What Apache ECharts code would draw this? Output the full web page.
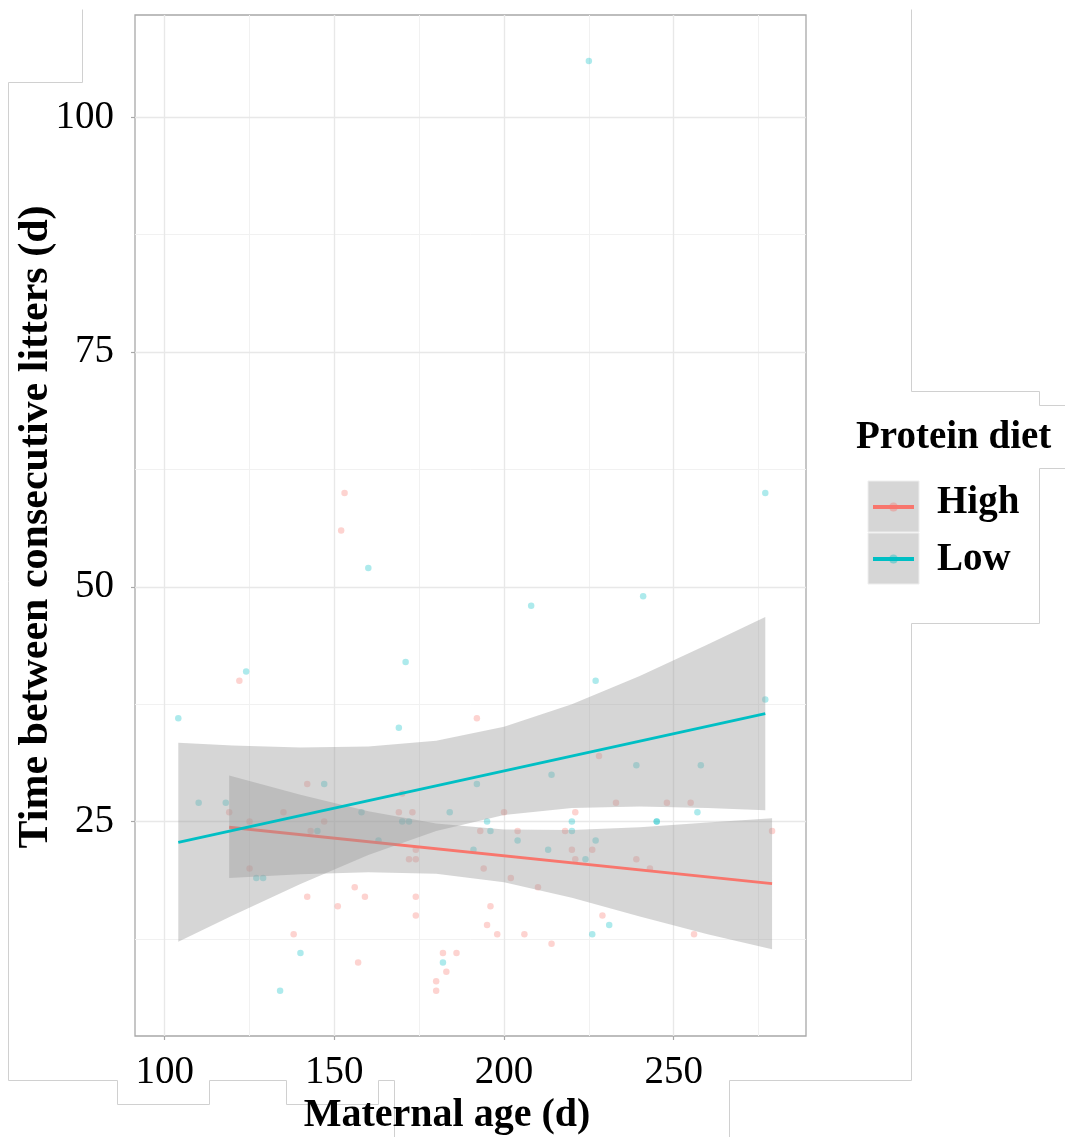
<!DOCTYPE html>
<html>
<head>
<meta charset="utf-8">
<script src="https://cdn.jsdelivr.net/npm/echarts@6/dist/echarts.min.js"></script>
<style>
html,body{margin:0;padding:0;background:#fff;}
#chart{width:1065px;height:1137px;}
</style>
</head>
<body>
<div id="chart"></div>
<script>
// ---- data ----
const seriesNames = ['High', 'Low'];

const highX = [119,142,135,125,147,143,170,169,173,174,172,174,125,156,142,159,174,151,174,138,157,182,186,183,180,180,
               153,152,122,192,228,233,248,255,200,221,279,193,204,218,220,226,221,239,243,194,202,210,196,195,229,198,206,256,214];
const highY = [26,29,26,25,25,24,28,26,26,22,21,21,20,18,17,17,17,16,15,13,10,11,11,9,8,7,
               60,56,40,36,32,27,27,27,26,26,24,24,24,24,22,22,21,21,20,20,19,18,16,14,15,13,13,13,12];

const lowX = [110,118,147,145,158,163,170,172,184,127,129,140,182,134,
              160,124,171,104,169,277,208,241,227,277,239,258,225,
              214,192,257,195,220,245,245,196,220,204,227,191,213,224,231,226];
const lowY = [27,27,29,24,26,23,25,25,26,19,19,11,10,7,
              52,41,42,36,35,60,48,49,40,38,31,31,106,
              30,29,26,25,25,25,25,24,24,23,23,22,22,21,14,13];

// fitted lines (end points)
const highFitX = [119, 279];
const highFitY = [24.4, 18.4];
const lowFitX = [104, 277];
const lowFitY = [22.8, 36.5];

// confidence bands (read at several ages)
const highBandX = [119, 140, 160, 180, 200, 220, 240, 260, 279];
const highUpper = [29.9, 27.85, 26.1, 24.8, 24.15, 24.1, 24.4, 24.9, 25.35];
const highLower = [19.0, 19.4, 19.6, 19.45, 18.55, 16.9, 14.9, 13.0, 11.4];

const lowBandX = [104, 120, 140, 160, 180, 200, 220, 240, 260, 277];
const lowUpper = [33.4, 33.1, 32.9, 33.0, 33.6, 35.1, 37.5, 40.5, 43.85, 46.8];
const lowLower = [12.2, 15.0, 18.35, 21.45, 24.0, 25.7, 26.45, 26.6, 26.45, 26.2];

// axes
const xMajor = [100, 150, 200, 250];
const xMinor = [125, 175, 225, 275];
const yMajor = [25, 50, 75, 100];
const yMinor = [12.5, 37.5, 62.5, 87.5];
const xTitle = 'Maternal age (d)';
const yTitle = 'Time between consecutive litters (d)';
const legendTitle = 'Protein diet';

// ---- chart ----
const PINK = '#F8766D', CYAN = '#00BFC4';
const FONT = "'Liberation Serif','Times New Roman',serif";

function zip(a, b) { return a.map((v, i) => [v, b[i]]); }

function bandSeries(name, bx, up, lo, z) {
  return {
    type: 'custom', name: name, z: z, silent: true,
    data: [0],
    renderItem: function (params, api) {
      const pts = [];
      for (let i = 0; i < bx.length; i++) pts.push(api.coord([bx[i], up[i]]));
      for (let i = bx.length - 1; i >= 0; i--) pts.push(api.coord([bx[i], lo[i]]));
      return { type: 'polygon', shape: { points: pts },
               style: { fill: 'rgba(153,153,153,0.4)' } };
    }
  };
}

function gridLines(arr, key, color, width) {
  return arr.map(v => ({ [key]: v, lineStyle: { color: color, width: width, type: 'solid' } }));
}

const chart = echarts.init(document.getElementById('chart'), null, { renderer: 'canvas' });

const legendItems = [];
const keyBoxes = [{ y: 481, c: PINK, c2: 'rgba(248,118,109,0.4)', t: seriesNames[0], ty: 503 },
                  { y: 533, c: CYAN, c2: 'rgba(0,191,196,0.4)', t: seriesNames[1], ty: 560 }];
keyBoxes.forEach(k => {
  legendItems.push({ type: 'rect', shape: { x: 868, y: k.y, width: 51, height: 51 },
                     style: { fill: '#d6d6d6', stroke: '#eeeeee', lineWidth: 1 } });
  legendItems.push({ type: 'line', shape: { x1: 873, y1: k.y + 26, x2: 914, y2: k.y + 26 },
                     style: { stroke: k.c, lineWidth: 4 } });
  legendItems.push({ type: 'circle', shape: { cx: 893.5, cy: k.y + 26, r: 4.5 },
                     style: { fill: k.c2 } });
  legendItems.push({ type: 'text', x: 937, y: k.ty,
                     style: { text: k.t, font: 'bold 39px ' + FONT, fill: '#000',
                              textAlign: 'left', textVerticalAlign: 'middle' } });
});

const artifactStyle = { stroke: '#d0d0d0', lineWidth: 1, fill: null };
const artifacts = [
  [[82,9],[82,82],[8,82],[8,1080],[117,1080],[117,1104],[209,1104],[209,1080],[286,1080],[286,1104],[378,1104],[378,1080],[394,1080],[394,1137]],
  [[911,9],[911,391],[1039,391],[1039,405],[1065,405]],
  [[1065,468],[1039,468],[1039,623],[911,623],[911,1080],[729,1080],[729,1137]]
].map(p => ({ type: 'polyline', shape: { points: p.map(q => [q[0] + 0.5, q[1] + 0.5]) }, style: artifactStyle, z: -1, silent: true }));

chart.setOption({
  animation: false,
  backgroundColor: '#fff',
  grid: { left: 135, top: 15, width: 671, height: 1021, show: true,
          backgroundColor: '#fff', borderColor: '#a8a8a8', borderWidth: 1.3, containLabel: false },
  xAxis: {
    type: 'value', min: 91.24, max: 289,
    axisLine: { show: false },
    splitLine: { show: false },
    axisTick: { show: true, customValues: xMajor, length: 4, lineStyle: { color: '#a8a8a8', width: 1.2 } },
    axisLabel: { customValues: xMajor, margin: 17, fontFamily: FONT, fontSize: 39, color: '#000' }
  },
  yAxis: {
    type: 'value', min: 2.17, max: 110.9,
    axisLine: { show: false },
    splitLine: { show: false },
    axisTick: { show: true, customValues: yMajor, length: 4, lineStyle: { color: '#a8a8a8', width: 1.2 } },
    axisLabel: { customValues: yMajor, margin: 21, fontFamily: FONT, fontSize: 39, color: '#000' }
  },
  series: [
    {
      type: 'line', data: [], z: 1, silent: true,
      markLine: {
        silent: true, z: 1, symbol: ['none', 'none'], label: { show: false }, animation: false,
        data: [].concat(
          gridLines(xMinor, 'xAxis', '#f1f1f1', 1),
          gridLines(yMinor, 'yAxis', '#f1f1f1', 1),
          gridLines(xMajor, 'xAxis', '#e8e8e8', 1.4),
          gridLines(yMajor, 'yAxis', '#e8e8e8', 1.4))
      }
    },
    { type: 'scatter', name: seriesNames[0], z: 2, data: zip(highX, highY), symbolSize: 6.5,
      itemStyle: { color: 'rgba(248,118,109,0.4)' } },
    { type: 'scatter', name: seriesNames[1], z: 2, data: zip(lowX, lowY), symbolSize: 6.5,
      itemStyle: { color: 'rgba(0,191,196,0.4)' } },
    bandSeries('HighBand', highBandX, highUpper, highLower, 3),
    { type: 'line', name: 'HighFit', z: 4, data: zip(highFitX, highFitY), showSymbol: false,
      lineStyle: { color: PINK, width: 2.8 } },
    bandSeries('LowBand', lowBandX, lowUpper, lowLower, 5),
    { type: 'line', name: 'LowFit', z: 6, data: zip(lowFitX, lowFitY), showSymbol: false,
      lineStyle: { color: CYAN, width: 2.8 } }
  ],
  graphic: [].concat(artifacts, [
    { type: 'text', x: 447, y: 1116,
      style: { text: xTitle, font: 'bold 40px ' + FONT, fill: '#000', textAlign: 'center', textVerticalAlign: 'middle' } },
    { type: 'text', x: 36, y: 527, rotation: Math.PI / 2,
      style: { text: yTitle, font: 'bold 42px ' + FONT, fill: '#000', textAlign: 'center', textVerticalAlign: 'middle' } },
    { type: 'text', x: 856, y: 438,
      style: { text: legendTitle, font: 'bold 39px ' + FONT, fill: '#000', textAlign: 'left', textVerticalAlign: 'middle' } }
  ], legendItems)
});
</script>
</body>
</html>
